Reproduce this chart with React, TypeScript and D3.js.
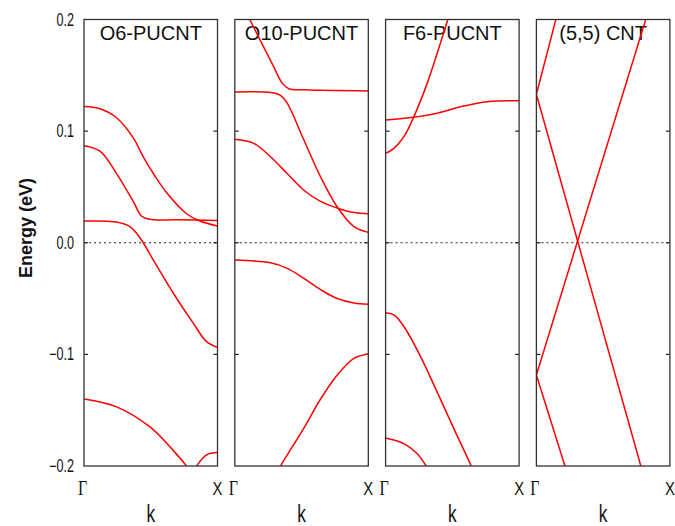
import React from "react";
import * as d3 from "d3";

type Pt = [number, number];

const panelTitles = ["O6-PUCNT", "O10-PUCNT", "F6-PUCNT", "(5,5) CNT"];
const yTicks = [-0.2, -0.1, 0.0, 0.1, 0.2];
const yTickLabels = ["\u22120.2", "\u22120.1", "0.0", "0.1", "0.2"];
const kLabels = ["\u0393", "X"];

const o6Bands: Pt[][] = [
  [[0, 0.122], [0.12, 0.12], [0.244, 0.112], [0.369, 0.094], [0.444, 0.077], [0.53, 0.06], [0.618, 0.045], [0.768, 0.026], [0.868, 0.0195], [1, 0.015]],
  [[0, 0.087], [0.12, 0.082], [0.244, 0.062], [0.369, 0.037], [0.43, 0.024], [0.49, 0.021], [0.7, 0.0205], [1, 0.02]],
  [[0, 0.0195], [0.244, 0.0185], [0.344, 0.0144], [0.394, 0.0085], [0.444, 0], [0.519, -0.0155], [0.668, -0.045], [0.818, -0.072], [0.918, -0.0886], [1, -0.0937]],
  [[0, -0.14], [0.244, -0.147], [0.494, -0.165], [0.668, -0.186], [0.768, -0.2], [0.8, -0.205]],
  [[0.82, -0.205], [0.843, -0.2], [0.918, -0.19], [1, -0.188]],
];

const o10Bands: Pt[][] = [
  [[0, 0.227], [0.1125, 0.2], [0.19, 0.1816], [0.29, 0.158], [0.355, 0.143], [0.405, 0.138], [0.52, 0.137], [1, 0.136]],
  [[0, 0.135], [0.27, 0.1345], [0.3425, 0.132], [0.3925, 0.125], [0.5175, 0.092], [0.6425, 0.059], [0.7675, 0.032], [0.8925, 0.0144], [1, 0.0093]],
  [[0, 0.0927], [0.1425, 0.089], [0.2675, 0.077], [0.3925, 0.062], [0.5175, 0.047], [0.6425, 0.037], [0.7925, 0.03], [0.8925, 0.027], [1, 0.026]],
  [[0, -0.0155], [0.2675, -0.018], [0.3925, -0.023], [0.5175, -0.032], [0.6425, -0.042], [0.7675, -0.05], [0.8925, -0.054], [1, -0.055]],
  [[0.32, -0.205], [0.3425, -0.2], [0.5175, -0.166], [0.6425, -0.14], [0.7675, -0.1185], [0.8925, -0.1036], [1, -0.0997]],
];

const f6Bands: Pt[][] = [
  [[0, 0.08], [0.0624, 0.0846], [0.137, 0.095], [0.212, 0.113], [0.312, 0.143], [0.411, 0.179], [0.466, 0.2], [0.5, 0.213]],
  [[0, 0.11], [0.212, 0.1124], [0.387, 0.116], [0.586, 0.1225], [0.761, 0.1264], [1, 0.1273]],
  [[0, -0.0627], [0.062, -0.0647], [0.137, -0.075], [0.262, -0.102], [0.387, -0.134], [0.511, -0.1665], [0.641, -0.2], [0.66, -0.206]],
  [[0, -0.175], [0.137, -0.18], [0.237, -0.189], [0.304, -0.2], [0.33, -0.206]],
];

const cntBands: Pt[][] = [
  [[0, 0.133], [0.2, 0.225]],
  [[0, 0.133], [0.82, -0.216]],
  [[0, -0.1185], [0.86, 0.216]],
  [[0, -0.1185], [0.24, -0.21]],
];

const panelBands: Pt[][][] = [o6Bands, o10Bands, f6Bands, cntBands];
const smooth = d3.curveCatmullRom.alpha(0.5);
const panelCurves = [smooth, smooth, smooth, d3.curveLinear];

const W = 675;
const H = 526;
const panelLeft0 = 84;
const panelStep = 150.8;
const panelW = 133.5;
const top = 19.5;
const bottom = 466;
const narrow = 0.72;
const sans = "'Liberation Sans', Arial, Helvetica, sans-serif";

export default function App() {
  const y = d3.scaleLinear().domain([-0.2, 0.2]).range([bottom, top]);
  const band = d3.scaleBand<number>().domain(d3.range(4)).range([panelLeft0, panelLeft0 + panelStep * 4]).paddingInner(0);
  return (
    <svg width={W} height={H} style={{ position: "absolute", left: 0, top: 0, background: "#fff" }}>
      <defs>
        {panelTitles.map((_, i) => {
          const x0 = band(i)!;
          return (
            <clipPath id={`clip${i}`} key={i}>
              <rect x={x0} y={top} width={panelW} height={bottom - top} />
            </clipPath>
          );
        })}
      </defs>
      {yTicks.map((t, i) => (
        <text
          key={t}
          transform={`translate(74,${y(t) + 6}) scale(${narrow},1)`}
          textAnchor="end"
          fontFamily={sans}
          fontSize={17.5}
          fill="#111"
        >
          {yTickLabels[i]}
        </text>
      ))}
      <text
        transform={`translate(32,228) rotate(-90)`}
        textAnchor="middle"
        fontFamily={sans}
        fontSize={19}
        fontWeight="bold"
        textLength={100}
        lengthAdjust="spacingAndGlyphs"
        fill="#111"
      >
        Energy (eV)
      </text>
      {panelTitles.map((title, i) => {
        const x0 = band(i)!;
        const x = d3.scaleLinear().domain([0, 1]).range([x0, x0 + panelW]);
        const line = d3
          .line<Pt>()
          .x((d) => x(d[0]))
          .y((d) => y(d[1]))
          .curve(panelCurves[i]);
        return (
          <g key={title}>
            <text x={x(0.5)} y={39.5} textAnchor="middle" fontFamily={sans} fontSize={20} fill="#111">
              {title}
            </text>
            <line x1={x(0)} x2={x(1)} y1={y(0)} y2={y(0)} stroke="#222" strokeWidth={1.2} strokeDasharray="2,3" />
            {[-0.1, 0, 0.1].map((t) => (
              <g key={t}>
                <line x1={x(0)} x2={x(0) + 4} y1={y(t)} y2={y(t)} stroke="#222" strokeWidth={1.2} />
                <line x1={x(1) - 4} x2={x(1)} y1={y(t)} y2={y(t)} stroke="#222" strokeWidth={1.2} />
              </g>
            ))}
            <g clipPath={`url(#clip${i})`}>
              {panelBands[i].map((b, j) => (
                <path key={j} d={line(b) || ""} fill="none" stroke="#ff0000" strokeWidth={1.5} />
              ))}
            </g>
            <rect x={x(0)} y={top} width={panelW} height={bottom - top} fill="none" stroke="#333" strokeWidth={1.3} />
            <text
              transform={`translate(${x(0) - 1.5},495) scale(0.8,1)`}
              textAnchor="middle"
              fontFamily="'Liberation Serif', 'Times New Roman', serif"
              fontSize={20}
              fill="#111"
            >
              {kLabels[0]}
            </text>
            <text
              transform={`translate(${x(1)},495) scale(0.8,1)`}
              textAnchor="middle"
              fontFamily={sans}
              fontSize={18.5}
              fill="#111"
            >
              {kLabels[1]}
            </text>
            <text
              transform={`translate(${x(0.5)},522) scale(0.72,1)`}
              textAnchor="middle"
              fontFamily={sans}
              fontSize={24}
              fill="#111"
            >
              k
            </text>
          </g>
        );
      })}
    </svg>
  );
}
